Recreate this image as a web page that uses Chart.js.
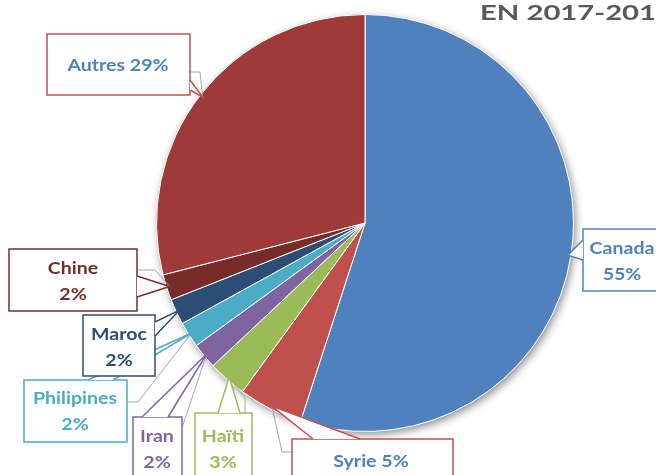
<!DOCTYPE html>
<html>
<head>
<meta charset="utf-8">
<script src="https://cdn.jsdelivr.net/npm/chart.js@4"></script>
<style>
  body { margin: 0; background: #fff; }
</style>
</head>
<body>
<canvas id="pie-chart" width="656" height="475"></canvas>
<script>
// Pays d'origine, part en %
var pays = ['Canada', 'Syrie', 'Haïti', 'Iran', 'Philipines', 'Maroc', 'Chine', 'Autres'];
var parts = [55, 5, 3, 2, 2, 2, 2, 29];
var couleurs = ['#4F81BD', '#C0504D', '#9BBB59', '#8064A2', '#4BACC6', '#2C4D75', '#772C2A', '#9E3B38'];
var titre = 'EN 2017-2018';

// mise en page des étiquettes (boîte, centre du texte, pointe, ligne grise)
var etiquettes = [
  { i: 7, box: [47, 34, 143, 61], centre: [118, 66], lignes: 1, texte: '#4F81BD', bord: '#C0504D', base: [[190, 80], [190, 90]], gris: [[190, 72], [200, 72]] },
  { i: 0, box: [583, 229, 84, 62], centre: [622, 262], lignes: 2, texte: '#4F81BD', bord: '#4F81BD', base: [[583, 240], [583, 260]], gris: null },
  { i: 1, box: [292, 439, 161, 50], centre: [371, 462], lignes: 1, texte: '#4F81BD', bord: '#C0504D', base: [[313, 439], [360, 439]], gris: [[292, 452], [282, 452]] },
  { i: 2, box: [195, 413, 57, 70], centre: [223, 450], lignes: 2, texte: '#9BBB59', bord: '#9BBB59', base: [[218, 413], [240, 413]], gris: [[245, 413], [245, 398]] },
  { i: 3, box: [133, 417, 49, 70], centre: [157, 450], lignes: 2, texte: '#8064A2', bord: '#8064A2', base: [[142, 417], [168, 417]], gris: [[182, 428]] },
  { i: 4, box: [24, 380, 103, 62], centre: [75, 412], lignes: 2, texte: '#4BACC6', bord: '#4BACC6', base: [[88, 380], [113, 380]], gris: [[127, 402], [138, 402]] },
  { i: 5, box: [83, 315, 72, 61], centre: [119, 348], lignes: 2, texte: '#2C4D75', bord: '#2C4D75', base: [[155, 322], [155, 336]], gris: null },
  { i: 6, box: [9, 249, 128, 62], centre: [73, 282], lignes: 2, texte: '#772C2A', bord: '#772C2A', base: [[137, 276], [137, 297]], gris: [[137, 270], [155, 270]] }
];

var police = 'Lato, "Open Sans", sans-serif';

// texte élargi horizontalement (la police d'origine est plus large)
function texteEtire(ctx, txt, x, y, sx) {
  ctx.save();
  ctx.translate(x, y);
  ctx.scale(sx, 1);
  ctx.fillText(txt, 0, 0);
  ctx.restore();
}

var pluginOmbre = {
  id: 'ombre',
  beforeDatasetsDraw: function (chart) {
    var arc = chart.getDatasetMeta(0).data[0];
    var ctx = chart.ctx;
    ctx.save();
    ctx.shadowColor = 'rgba(0,0,0,0.45)';
    ctx.shadowBlur = 9;
    ctx.shadowOffsetX = 2;
    ctx.shadowOffsetY = 3;
    ctx.fillStyle = '#fff';
    ctx.beginPath();
    ctx.arc(arc.x, arc.y, arc.outerRadius, 0, Math.PI * 2);
    ctx.fill();
    ctx.restore();
  }
};

var pluginEtiquettes = {
  id: 'etiquettes',
  afterDatasetsDraw: function (chart) {
    var ctx = chart.ctx;
    var meta = chart.getDatasetMeta(0);
    etiquettes.forEach(function (e) {
      var arc = meta.data[e.i];
      var milieu = (arc.startAngle + arc.endAngle) / 2;
      var pointe = [arc.x + Math.cos(milieu) * arc.outerRadius * 0.985,
                    arc.y + Math.sin(milieu) * arc.outerRadius * 0.985];
      var b = e.box;
      ctx.save();
      // ligne grise
      if (e.gris) {
        ctx.strokeStyle = '#A6A6A6';
        ctx.lineWidth = 1;
        ctx.beginPath();
        ctx.moveTo(e.gris[0][0], e.gris[0][1]);
        for (var k = 1; k < e.gris.length; k++) ctx.lineTo(e.gris[k][0], e.gris[k][1]);
        ctx.lineTo(pointe[0], pointe[1]);
        ctx.stroke();
      }
      // boîte
      ctx.fillStyle = '#fff';
      ctx.fillRect(b[0], b[1], b[2], b[3]);
      ctx.strokeStyle = e.bord;
      ctx.lineWidth = 1.5;
      ctx.strokeRect(b[0], b[1], b[2], b[3]);
      // pointe
      ctx.beginPath();
      ctx.moveTo(e.base[0][0], e.base[0][1]);
      ctx.lineTo(pointe[0], pointe[1]);
      ctx.lineTo(e.base[1][0], e.base[1][1]);
      ctx.closePath();
      ctx.fill();
      ctx.beginPath();
      ctx.moveTo(e.base[0][0], e.base[0][1]);
      ctx.lineTo(pointe[0], pointe[1]);
      ctx.lineTo(e.base[1][0], e.base[1][1]);
      ctx.stroke();
      // texte
      ctx.fillStyle = e.texte;
      ctx.font = 'bold 17px ' + police;
      ctx.textAlign = 'center';
      ctx.textBaseline = 'middle';
      var nom = pays[e.i], pct = parts[e.i] + '%';
      if (e.lignes === 1) {
        texteEtire(ctx, nom + ' ' + pct, e.centre[0], e.centre[1], 1.15);
      } else {
        texteEtire(ctx, nom, e.centre[0], e.centre[1] - 13, 1.15);
        texteEtire(ctx, pct, e.centre[0], e.centre[1] + 13, 1.15);
      }
      ctx.restore();
    });
    // titre (coupé à droite comme sur l'original)
    ctx.save();
    ctx.fillStyle = '#595959';
    ctx.font = 'bold 21px ' + police;
    ctx.textAlign = 'left';
    ctx.textBaseline = 'alphabetic';
    var sx = 176 / ctx.measureText('EN 2017-201').width;
    texteEtire(ctx, titre, 480, 20, sx);
    ctx.restore();
  }
};

var ctx = document.getElementById('pie-chart').getContext('2d');
var pieChart = new Chart(ctx, {
  type: 'pie',
  data: {
    labels: pays,
    datasets: [{
      data: parts,
      backgroundColor: couleurs,
      borderColor: '#fff',
      borderWidth: 1
    }]
  },
  options: {
    responsive: false,
    animation: false,
    devicePixelRatio: 1,
    layout: { padding: { left: 156, right: 82, top: 14, bottom: 43 } },
    plugins: {
      legend: { display: false },
      tooltip: { enabled: false },
      title: { display: false }
    }
  },
  plugins: [pluginOmbre, pluginEtiquettes]
});
</script>
</body>
</html>
